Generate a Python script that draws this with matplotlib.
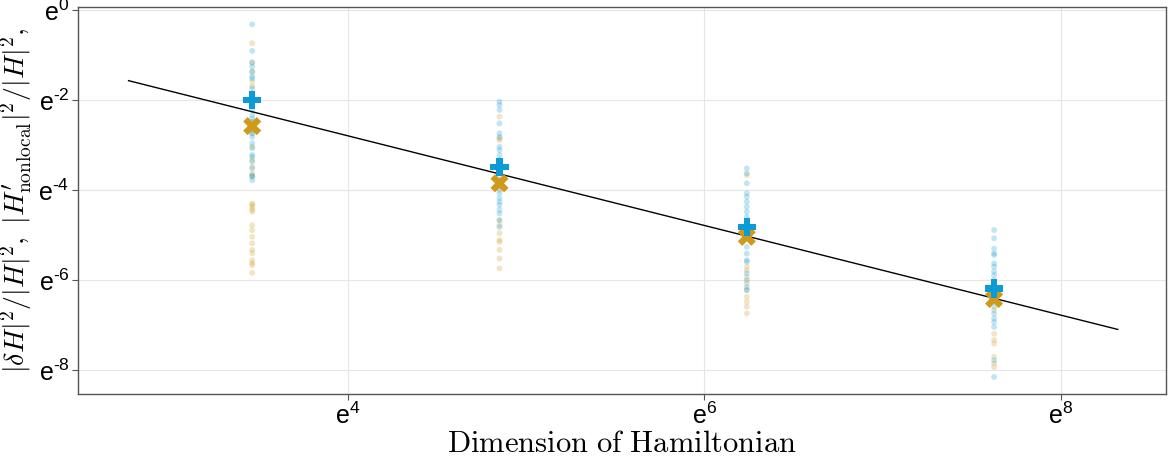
import numpy as np
import matplotlib
matplotlib.use("Agg")
import matplotlib.pyplot as plt
from matplotlib.ticker import FixedLocator, FuncFormatter, NullLocator

plt.rcParams.update({
    'font.family': ['Liberation Sans', 'DejaVu Sans'],
    'mathtext.fontset': 'cm',
})

# Hilbert-space dimensions of the four systems
dims = [32, 128, 512, 2048]

# ln of |dH|^2/|H|^2 samples (blue) per dimension
ln_delta = [
    [-0.32, -0.91, -1.16, -1.26, -1.37, -1.48, -1.52, -1.74, -1.85, -1.93, -2.22, -2.33,
     -2.41, -2.48, -2.67, -2.74, -2.82, -2.96, -3.07, -3.22, -3.26, -3.37, -3.52, -3.67,
     -3.70, -3.78],
    [-2.04, -2.11, -2.22, -2.52, -2.74, -2.82, -3.04, -3.11, -3.22, -3.33, -3.78, -3.93,
     -4.07, -4.18, -4.26, -4.33, -4.44, -4.52, -4.67, -4.82],
    [-3.52, -3.63, -3.85, -4.07, -4.15, -4.26, -4.37, -4.48, -4.59, -4.67, -5.26, -5.41,
     -5.56, -5.59, -5.85, -6.00, -6.15, -6.22],
    [-4.89, -5.07, -5.30, -5.41, -5.44, -5.63, -5.70, -5.81, -5.89, -6.00, -6.59, -6.74,
     -6.85, -6.93, -7.04, -7.78, -8.15],
]
# ln of |H'_nonlocal|^2/|H|^2 samples (gold)
ln_nonlocal = [
    [-0.74, -1.18, -1.37, -1.59, -1.70, -2.74, -3.04, -3.33, -3.48, -3.63, -3.70, -4.30,
     -4.33, -4.38, -4.44, -4.48, -4.78, -4.89, -5.04, -5.18, -5.33, -5.40, -5.56, -5.62,
     -5.67, -5.84],
    [-2.37, -2.85, -2.89, -3.70, -4.00, -4.67, -4.78, -4.96, -5.11, -5.15, -5.33, -5.52,
     -5.74],
    [-3.67, -4.96, -5.07, -5.70, -5.78, -5.93, -6.07, -6.22, -6.37, -6.48, -6.59, -6.74],
    [-6.22, -6.67, -7.19, -7.33, -7.41, -7.70, -7.85, -7.93],
]
# averages
mean_delta = [0.135, 0.0303, 0.0081, 0.00206]
mean_nonlocal = [0.0759, 0.0213, 0.00649, 0.00163]

# reference line ~ 1/D
line_x = [16, 4096]
line_y = [0.208, 0.00083]

BLUE = '#0b9bd5'
GOLD = '#cf9a1c'

fig = plt.figure(figsize=(11.69, 4.62), dpi=100)
ax = fig.add_axes([0.0667, 0.147, 0.931, 0.838])

for d, ys in zip(dims, ln_nonlocal):
    ax.scatter([d] * len(ys), np.exp(ys), s=18, color=GOLD, alpha=0.25,
               edgecolors='none', zorder=2)
for d, ys in zip(dims, ln_delta):
    ax.scatter([d] * len(ys), np.exp(ys), s=18, color=BLUE, alpha=0.25,
               edgecolors='none', zorder=2)

ax.plot(line_x, line_y, color='black', lw=1.0, zorder=3)
ax.scatter(dims, mean_nonlocal, marker='X', s=170, color=GOLD, edgecolors='none', zorder=4)
ax.scatter(dims, mean_delta, marker='P', s=170, color=BLUE, edgecolors='none', zorder=5)

ax.set_xscale('log', base=np.e)
ax.set_yscale('log', base=np.e)
ax.set_xlim(np.exp(2.489), np.exp(8.59))
ax.set_ylim(np.exp(-8.53), np.exp(0.067))

xt = [4, 6, 8]
yt = [0, -2, -4, -6, -8]
ax.xaxis.set_major_locator(FixedLocator(np.exp(xt)))
ax.yaxis.set_major_locator(FixedLocator(np.exp(yt)))
ax.xaxis.set_minor_locator(NullLocator())
ax.yaxis.set_minor_locator(NullLocator())


def e_label(v, pos):
    n = round(np.log(v))
    s = str(abs(n)) if n >= 0 else '\u2010' + str(abs(n))
    return r'$\mathregular{e^{%s}}$' % s


ax.xaxis.set_major_formatter(FuncFormatter(e_label))
ax.yaxis.set_major_formatter(FuncFormatter(e_label))
ax.tick_params(labelsize=18, length=4, color='#555555', width=0.8, pad=2)

ax.grid(True, color='#e6e6e6', lw=0.8, zorder=0)
ax.set_axisbelow(True)
for sp in ax.spines.values():
    sp.set_color('#555555')
    sp.set_linewidth(1.0)

ax.set_xlabel(r'$\mathrm{Dimension\ of\ Hamiltonian}$', fontsize=22, labelpad=0)
ax.set_ylabel(r'$|\delta H|^2/|H|^2,\ |H^{\prime}_{\mathrm{nonlocal}}|^2/|H|^2,$',
              fontsize=20)
ax.yaxis.set_label_coords(-0.04, 0.5)

fig.savefig('out.png', dpi=100)
